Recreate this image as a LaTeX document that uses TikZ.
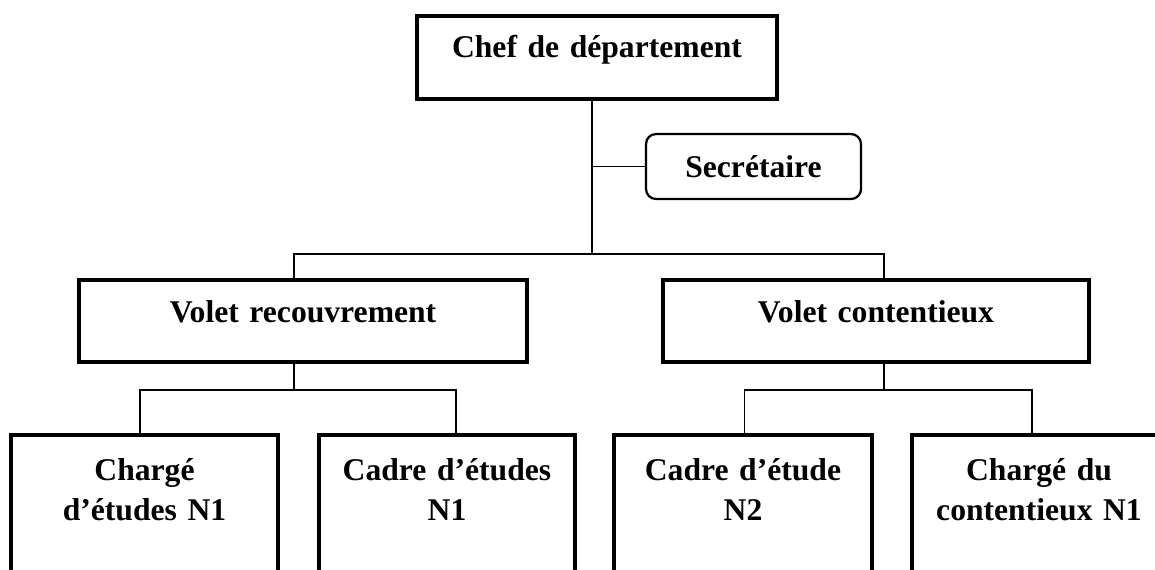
\documentclass[tikz,border=0pt]{standalone}
\usepackage{fontspec}
\setmainfont{Liberation Serif}
\usepackage{tikz}
\usetikzlibrary{positioning}
\tikzstyle{block} = [rectangle, draw, line width=2.3pt, inner sep=0pt, outer sep=0pt,
    align=center, font=\fontsize{22.5}{28.5}\selectfont\bfseries]
\tikzstyle{block_head} = [block, text height=1.025cm, text depth=1.05cm]
\tikzstyle{block_rounded} = [block, rounded corners=0.25cm, line width=1.6pt,
    text height=1.075cm, text depth=0.55cm]
\tikzstyle{block_volet} = [block, text height=1.05cm, text depth=1cm]
\tikzstyle{block_low} = [block, text height=1.125cm, text depth=2.75cm]
\tikzstyle{line} = [draw, line width=1.3pt]

\begin{document}
\begin{tikzpicture}
    \useasboundingbox (0,0) rectangle (28.875,-14.225);
    % Place nodes
    \node [block_head, text width=9cm, anchor=north] (chef) at (14.925,-0.4) {Chef de département};
    \node [block_rounded, text width=5.375cm, below right=0.875cm and -3.275cm of chef] (sec) {Secrétaire};
    \node [block_volet, text width=11.2cm, below left=4.525cm and -2.75cm of chef] (rec) {Volet recouvrement};
    \node [block_volet, text width=10.65cm, below right=4.525cm and -2.85cm of chef] (cont) {Volet contentieux};
    \node [block_low, text width=6.675cm, below left=1.825cm and -4.975cm of rec] (chg1) {Chargé\\ d’études N1};
    \node [block_low, text width=6.4cm, below right=1.825cm and -5.2cm of rec] (cad1) {Cadre d’études\\ N1};
    \node [block_low, text width=6.45cm, below left=1.825cm and -5.225cm of cont] (cad2) {Cadre d’étude\\ N2};
    \node [block_low, text width=6.35cm, below right=1.825cm and -4.425cm of cont] (chg2) {Chargé du\\ contentieux N1};
    % Draw edges
    \path [line] ([xshift=-1.25mm]chef.south) -- ++(0,-3.875) coordinate (hub);
    \path [line] (sec.west) -- (sec.west -| hub);
    \path [line] (hub) -| ([xshift=-2.25mm]rec.north);
    \path [line] (hub) -| ([xshift=2mm]cont.north);
    \path [line] ([xshift=-2.25mm]rec.south) -- ++(0,-0.7) coordinate (rechub);
    \path [line] (rechub) -| ([xshift=-1.125mm]chg1.north);
    \path [line] (rechub) -| ([xshift=2.25mm]cad1.north);
    \path [line] ([xshift=2mm]cont.south) -- ++(0,-0.7) coordinate (conthub);
    \path [line] (conthub) -| ([xshift=0.375mm]cad2.north);
    \path [line] (conthub) -| ([xshift=-1.75mm]chg2.north);
\end{tikzpicture}
\end{document}
